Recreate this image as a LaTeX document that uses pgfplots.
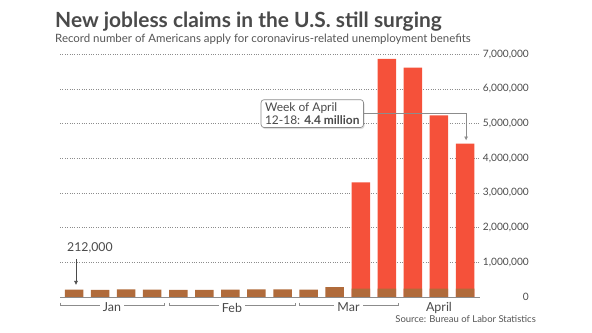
\documentclass[border=0pt]{standalone}
\usepackage{pgfplots}
\pgfplotsset{compat=1.18}
\usetikzlibrary{arrows.meta, shadows}
\usepackage{fontspec}
\setmainfont{Lato}
\definecolor{barbrown}{HTML}{B06B3B}
\definecolor{barred}{HTML}{F5513A}
\definecolor{titlegray}{HTML}{4A4A4A}
\definecolor{subgray}{HTML}{555555}
\definecolor{gridgray}{HTML}{8C8C8C}
\begin{document}
\begin{tikzpicture}
\path[use as bounding box] (0,0) rectangle (592bp,333bp);
\node[anchor=base west, inner sep=0, text=titlegray] at (55bp,305.3bp)
  {\fontsize{21}{24}\selectfont\bfseries New jobless claims in the U.S. still surging};
\node[anchor=base west, inner sep=0, text=subgray] at (55bp,290.7bp)
  {\fontsize{11.5}{13}\selectfont Record number of Americans apply for coronavirus-related unemployment benefits};
\node[anchor=base east, inner sep=0, text=subgray] at (536bp,11bp)
  {\fontsize{9.5}{11}\selectfont Source: Bureau of Labor Statistics};
\begin{axis}[
  at={(60bp,36bp)}, anchor=south west,
  scale only axis, width=420bp, height=242.7bp,
  xmin=-0.537, xmax=15.573, ymin=0, ymax=7000000,
  clip=false,
  axis line style={draw=none},
  xtick=\empty,
  ytick={0,1000000,2000000,3000000,4000000,5000000,6000000,7000000},
  yticklabel pos=right,
  major tick length=0pt,
  scaled y ticks=false,
  ymajorgrids,
  grid style={gridgray, dotted, line width=0.6pt},
  yticklabel style={anchor=east, inner sep=0pt, xshift=49bp, text=titlegray,
    font=\fontsize{10.2}{12}\selectfont,
    /pgf/number format/.cd, fixed, precision=0, 1000 sep={,}, assume math mode=true},
  ybar, bar width=18.5bp, bar shift=0pt,
]
% full-height red bars for the surge weeks
\addplot[fill=barred, draw=none] coordinates {
  (11,3307000) (12,6867000) (13,6615000) (14,5237000) (15,4427000)};
% brown bars (small weeks, and the brown base of the surge bars)
\addplot[fill=barbrown, draw=none] coordinates {
  (0,212000) (1,207000) (2,223000) (3,216000) (4,202000) (5,205000)
  (6,210000) (7,219000) (8,217000) (9,211000) (10,282000)
  (11,245000) (12,245000) (13,245000) (14,245000) (15,245000)};
% baseline
\draw[gridgray, line width=0.7pt] (axis cs:-0.537,0) -- (axis cs:15.573,0);
% month brackets
\draw[gridgray, line width=0.6pt] ([yshift=-5.5bp]axis cs:-0.54,0) -- ([yshift=-8.5bp]axis cs:-0.54,0) -- ([yshift=-8.5bp]axis cs:3.45,0) -- ([yshift=-5.5bp]axis cs:3.45,0);
\draw[gridgray, line width=0.6pt] ([yshift=-5.5bp]axis cs:3.64,0) -- ([yshift=-8.5bp]axis cs:3.64,0) -- ([yshift=-8.5bp]axis cs:8.48,0) -- ([yshift=-5.5bp]axis cs:8.48,0);
\draw[gridgray, line width=0.6pt] ([yshift=-5.5bp]axis cs:8.63,0) -- ([yshift=-8.5bp]axis cs:8.63,0) -- ([yshift=-8.5bp]axis cs:12.43,0) -- ([yshift=-5.5bp]axis cs:12.43,0);
\tikzset{monthlab/.style={inner xsep=3bp, inner ysep=1bp, text=titlegray, font=\fontsize{12.5}{14}\selectfont}}
\node[monthlab, fill=white] at ([yshift=-10.5bp]axis cs:1.455,0) {Jan};
\node[monthlab, fill=white] at ([yshift=-10.5bp]axis cs:6.06,0) {Feb};
\node[monthlab, fill=white] at ([yshift=-10.5bp]axis cs:10.53,0) {Mar};
\node[monthlab] at ([yshift=-10.5bp]axis cs:14,0) {April};
% 212,000 annotation
\node[anchor=west, inner sep=0, text=titlegray, font=\fontsize{12.3}{14}\selectfont] at ([xshift=-7bp, yshift=49bp]axis cs:0,0) {212,000};
\draw[titlegray, line width=0.6pt, -{Latex[length=4bp,width=4bp]}] ([xshift=2bp,yshift=38bp]axis cs:0,0) -- ([xshift=2bp,yshift=12bp]axis cs:0,0);
% callout
\draw[gridgray, line width=0.6pt, -{Latex[length=4bp,width=4bp]}] (axis cs:11.12,5310000) -- (axis cs:15.04,5310000) -- ([yshift=3bp]axis cs:15.04,4427000);
\node[draw=gridgray, line width=0.7pt, rounded corners=3bp, fill=white, align=left,
  inner xsep=4bp, inner ysep=3bp, text=titlegray, font=\fontsize{12}{13}\selectfont,
  drop shadow={opacity=0.25, shadow xshift=1bp, shadow yshift=-1.5bp},
  anchor=east] at (axis cs:11.12,5290000) {Week of April\\12-18: \textbf{4.4 million}};
\end{axis}
\end{tikzpicture}
\end{document}
